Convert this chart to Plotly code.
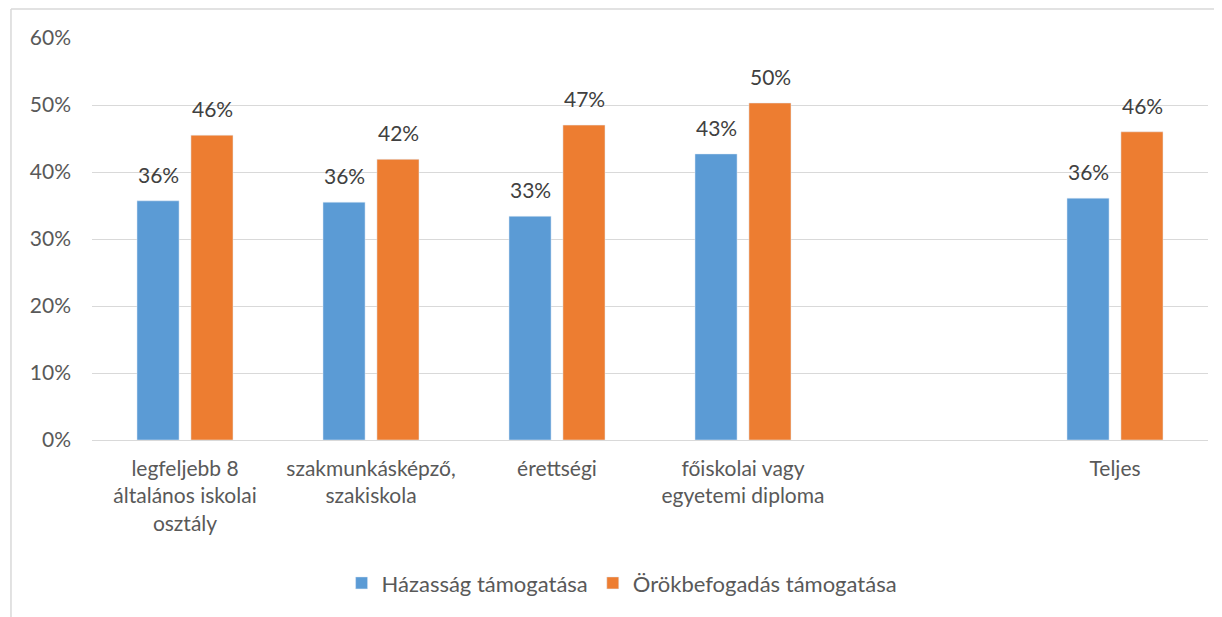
import plotly.graph_objects as go

categories = ["legfeljebb 8<br>általános iskolai<br>osztály",
              "szakmunkásképző,<br>szakiskola",
              "érettségi",
              "főiskolai vagy<br>egyetemi diploma",
              " ",
              "Teljes"]
hazassag = [0.357, 0.355, 0.334, 0.427, None, 0.361]
orokbefogadas = [0.455, 0.419, 0.470, 0.503, None, 0.460]
series_names = ["Házasság támogatása", "Örökbefogadás támogatása"]
colors = ["#5B9BD5", "#ED7D31"]
y_ticks = [0, 0.1, 0.2, 0.3, 0.4, 0.5, 0.6]

FONT = "Lato"
fig = go.Figure()
annotations = []
for i, (name, vals, col) in enumerate(zip(series_names, [hazassag, orokbefogadas], colors)):
    fig.add_trace(go.Bar(x=categories, y=vals, name=name, marker_color=col))
    for c, v in zip(categories, vals):
        if v is None:
            continue
        annotations.append(dict(
            x=c, y=v, xref="x", yref="y", text=f"{v*100:.0f}%", showarrow=False,
            xshift=(-27 if i == 0 else 27), yshift=12, yanchor="bottom",
            font=dict(family=FONT, size=21, color="#404040"),
        ))

fig.update_layout(
    width=1214, height=609,
    margin=dict(l=84, r=14, t=30, b=177),
    paper_bgcolor="white", plot_bgcolor="white",
    barmode="group", bargap=0.42, bargroupgap=0.22,
    font=dict(family=FONT, size=21, color="#595959"),
    showlegend=True,
    legend=dict(orientation="h", x=0.475, xanchor="center", y=-0.356, yanchor="middle",
                font=dict(family=FONT, size=22, color="#595959"), traceorder="normal"),
    xaxis=dict(showgrid=False, showline=False, ticks="", ticklabelstandoff=14,
               tickfont=dict(family=FONT, size=21, color="#595959")),
    yaxis=dict(range=[0, 0.6], tickvals=y_ticks, tickformat=".0%",
               showgrid=True, gridcolor="#d9d9d9", gridwidth=1.3,
               zeroline=True, zerolinecolor="#d9d9d9", zerolinewidth=1.3,
               showline=False, ticks="", ticklabelstandoff=20,
               tickfont=dict(family=FONT, size=21, color="#595959")),
    annotations=annotations,
    shapes=[
        dict(type="line", xref="paper", yref="paper", x0=-0.0726, x1=-0.0726, y0=-0.44, y1=1.072,
             line=dict(color="#d9d9d9", width=1.5)),
        dict(type="line", xref="paper", yref="paper", x0=-0.0726, x1=1.02, y0=1.072, y1=1.072,
             line=dict(color="#d9d9d9", width=1.5)),
    ],
)

fig.write_html("out.html")
